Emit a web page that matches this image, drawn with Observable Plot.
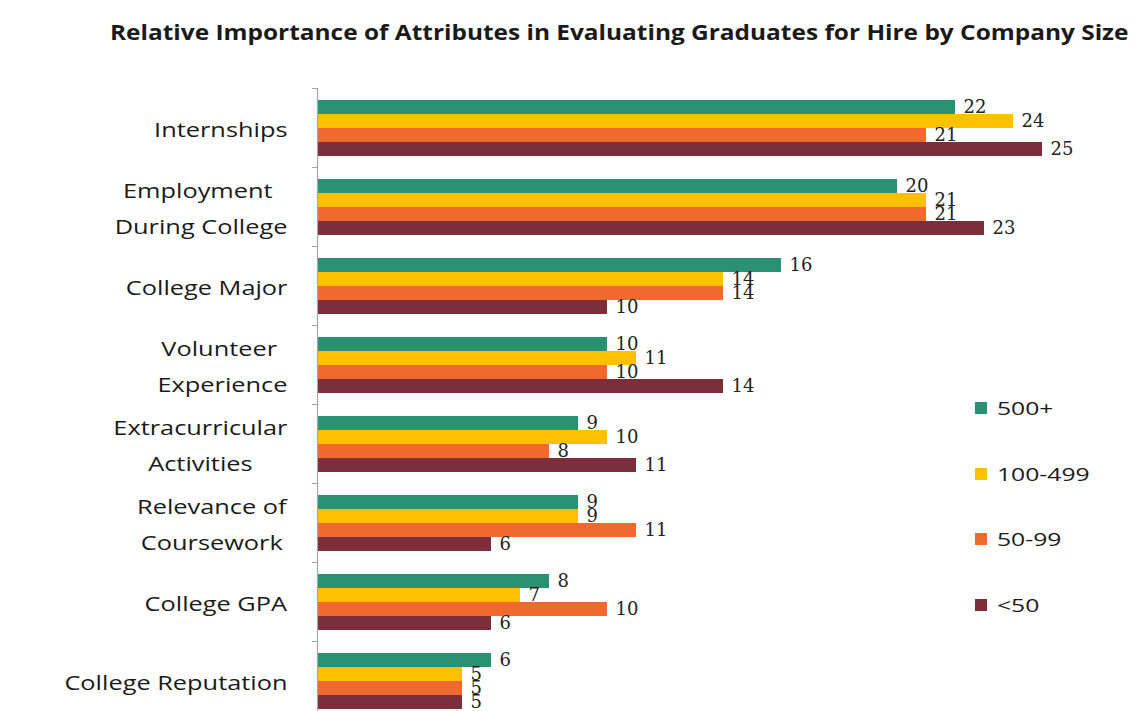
<!DOCTYPE html>
<html>
<head>
<meta charset="utf-8">
<script src="https://cdn.jsdelivr.net/npm/d3@7"></script>
<script src="https://cdn.jsdelivr.net/npm/@observablehq/plot@0.6"></script>
<style>
  html, body { margin: 0; padding: 0; overflow: hidden; background: #fff; }
  #wrap { position: relative; width: 1139px; height: 711px; overflow: hidden; background: #fff; }
  #title { position: absolute; left: 110px; top: 16px; font: bold 22px "Open Sans"; color: #1a1a1a;
           white-space: nowrap; transform: scaleX(1.11); transform-origin: 0 50%; }
  #chart { position: absolute; left: 0; top: 58px; }
  #legend { position: absolute; left: 975px; top: 396px; font: 19px "Open Sans"; color: #1a1a1a; }
  .item { display: flex; align-items: center; height: 24px; margin-bottom: 41.5px; }
  .sw { width: 12px; height: 12px; margin-right: 10px; flex: none; }
  .lab { display: inline-block; transform: scaleX(1.3); transform-origin: 0 50%; }
</style>
</head>
<body>
<div id="wrap">
  <div id="title">Relative Importance of Attributes in Evaluating Graduates for Hire by Company Size</div>
  <div id="chart"></div>
  <div id="legend"></div>
</div>
<script>
// Attributes, top to bottom
const categories = [
  "Internships", "Employment During College", "College Major", "Volunteer Experience",
  "Extracurricular Activities", "Relevance of Coursework", "College GPA", "College Reputation"
];
// Wrapped axis labels for each attribute
const categoryLabels = [
  "Internships", "Employment\u00a0\nDuring College", "College Major", "Volunteer\u00a0\nExperience",
  "Extracurricular\nActivities", "Relevance of\nCoursework", "College GPA", "College Reputation"
];
// Company size groups
const series = ["500+", "100-499", "50-99", "<50"];
const seriesColors = ["#2a9172", "#ffc000", "#f06a30", "#7d2e3b"];

// Relative importance by company size
const values500plus = [22, 20, 16, 10, 9, 9, 8, 6];
const values100to499 = [24, 21, 14, 11, 10, 9, 7, 5];
const values50to99 = [21, 21, 14, 10, 8, 11, 10, 5];
const valuesUnder50 = [25, 23, 10, 14, 11, 6, 6, 5];

const seriesValues = [values500plus, values100to499, values50to99, valuesUnder50];
const rows = [];
categories.forEach((c, i) => {
  series.forEach((s, j) => rows.push({category: c, series: s, value: seriesValues[j][i]}));
});

const axisColor = "#a6a6a6";

const chart = Plot.plot({
  width: 1139,
  height: 662,
  marginTop: 30,
  marginBottom: 0,
  marginLeft: 317,
  marginRight: 97,
  style: {fontFamily: "Open Sans", fontSize: "19.5px", color: "#1a1a1a", background: "transparent"},
  x: {domain: [0, 25], axis: null},
  y: {domain: series, axis: null, paddingInner: 0, paddingOuter: 0.725},
  fy: {domain: categories, padding: 0, label: null, axis: null},
  color: {domain: series, range: seriesColors},
  marks: [
    Plot.barX(rows, {x: "value", y: "series", fy: "category", fill: "series"}),
    Plot.text(rows, {
      x: "value", y: "series", fy: "category", text: d => String(d.value),
      textAnchor: "start", dx: 8, fontFamily: "DejaVu Serif", fontSize: 18, fill: "#222"
    }),
    Plot.ruleX([0], {stroke: axisColor, strokeWidth: 1.2}),
    Plot.frame({anchor: "top", stroke: axisColor, insetLeft: -5, insetRight: 725}),
    Plot.axisFy({
      anchor: "left", tickSize: 0, tickPadding: 30, label: null, lineHeight: 1.85, dy: -3,
      tickFormat: d => categoryLabels[categories.indexOf(d)], fill: "#1a1a1a"
    })
  ]
});

document.getElementById("chart").appendChild(chart);

// Center wrapped lines within each label block and widen the glyphs
chart.querySelectorAll('g[aria-label="fy-axis tick label"] text').forEach(t => {
  const w = t.getBBox().width;
  t.setAttribute("text-anchor", "middle");
  const spans = t.querySelectorAll("tspan");
  if (spans.length) spans.forEach(sp => sp.setAttribute("x", -w / 2));
  else t.setAttribute("x", -w / 2);
  const tr = t.getAttribute("transform") || "";
  t.setAttribute("transform", tr + " scale(1.3,1)");
});

// Legend
const legend = document.getElementById("legend");
series.forEach((s, i) => {
  const item = document.createElement("div");
  item.className = "item";
  const sw = document.createElement("span");
  sw.className = "sw";
  sw.style.background = seriesColors[i];
  const lab = document.createElement("span");
  lab.className = "lab";
  lab.textContent = s;
  item.appendChild(sw);
  item.appendChild(lab);
  legend.appendChild(item);
});
</script>
</body>
</html>
